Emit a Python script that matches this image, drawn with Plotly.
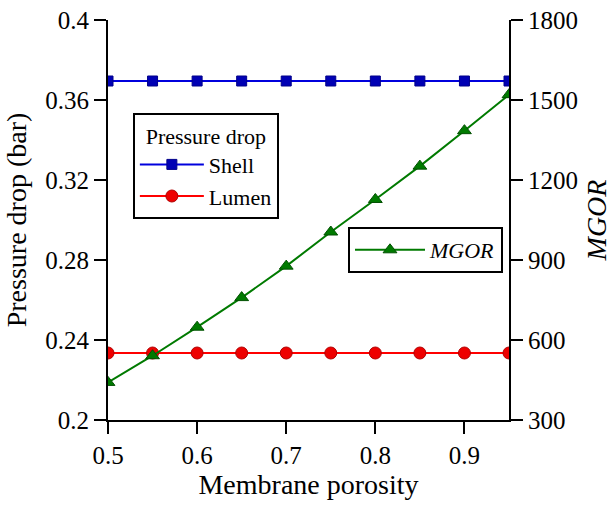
import plotly.graph_objects as go

porosity = [0.5, 0.55, 0.6, 0.65, 0.7, 0.75, 0.8, 0.85, 0.9, 0.95]
shell_dp = [0.3695] * 10
lumen_dp = [0.2335] * 10
mgor = [441, 541, 648, 759, 877, 1005, 1127, 1252, 1385, 1520]

x_ticks = [0.5, 0.6, 0.7, 0.8, 0.9]
x_ticktext = ["0.5", "0.6", "0.7", "0.8", "0.9"]
y_ticks = [0.2, 0.24, 0.28, 0.32, 0.36, 0.4]
y_ticktext = ["0.2", "0.24", "0.28", "0.32", "0.36", "0.4"]
y2_ticks = [300, 600, 900, 1200, 1500, 1800]
y2_ticktext = ["300", "600", "900", "1200", "1500", "1800"]

FONT = "Liberation Serif"


def serif(labels):
    return [f"<span style='font-family:Liberation Serif'>{t}</span>" for t in labels]


fig = go.Figure()
fig.add_trace(go.Scatter(
    x=porosity, y=shell_dp, name="Shell", mode="lines+markers",
    line=dict(color="#0000DD", width=2),
    marker=dict(symbol="square", size=10, color="#0000B4", line=dict(color="#00008A", width=1)),
    legend="legend",
))
fig.add_trace(go.Scatter(
    x=porosity, y=lumen_dp, name="Lumen", mode="lines+markers",
    line=dict(color="#FF0000", width=2),
    marker=dict(symbol="circle", size=12, color="#EE0000", line=dict(color="#B00000", width=1)),
    legend="legend",
))
fig.add_trace(go.Scatter(
    x=porosity, y=mgor, name="<i>MGOR</i>", mode="lines+markers",
    line=dict(color="#007A00", width=2),
    marker=dict(symbol="triangle-up", size=12, color="#007A00", line=dict(color="#005000", width=1)),
    yaxis="y2", legend="legend2",
))


def axis_common():
    return dict(
        showline=True, linecolor="black", linewidth=2,
        ticks="outside", ticklen=12, tickwidth=2, tickcolor="black",
        showgrid=False, zeroline=False,
        tickfont=dict(family=FONT, size=25, color="black"),
    )


fig.update_layout(
    template="none",
    width=614, height=507,
    margin=dict(l=108, r=105, t=20, b=87, autoexpand=False),
    paper_bgcolor="white", plot_bgcolor="white",
    font=dict(family=FONT, color="black", size=22),
    xaxis=dict(
        range=[0.5, 0.95], tickvals=x_ticks, ticktext=serif(x_ticktext),
        title=dict(text="Membrane porosity", font=dict(family=FONT, size=28), standoff=2),
        **axis_common(),
    ),
    yaxis=dict(
        range=[0.2, 0.4], tickvals=y_ticks, ticktext=serif(y_ticktext),
        title=dict(text="Pressure drop (bar)", font=dict(family=FONT, size=28), standoff=10),
        **axis_common(),
    ),
    yaxis2=dict(
        range=[300, 1800], tickvals=y2_ticks, ticktext=serif(y2_ticktext),
        overlaying="y", side="right",
        title=dict(text="<i>MGOR</i>", font=dict(family=FONT, size=28), standoff=9),
        **axis_common(),
    ),
    legend=dict(
        x=0.062, y=0.7675, xanchor="left", yanchor="top",
        bordercolor="black", borderwidth=2, bgcolor="white",
        title=dict(text="Pressure drop", side="top center", font=dict(family=FONT, size=22)),
        font=dict(family=FONT, size=22), itemwidth=64, tracegroupgap=0,
    ),
    legend2=dict(
        x=0.5985, y=0.4825, xanchor="left", yanchor="top",
        bordercolor="black", borderwidth=2, bgcolor="white",
        font=dict(family=FONT, size=22), itemwidth=70,
    ),
    showlegend=True,
)

fig.write_html("out.html", config={"displayModeBar": False},
               post_script="document.body.style.margin='0px';")
